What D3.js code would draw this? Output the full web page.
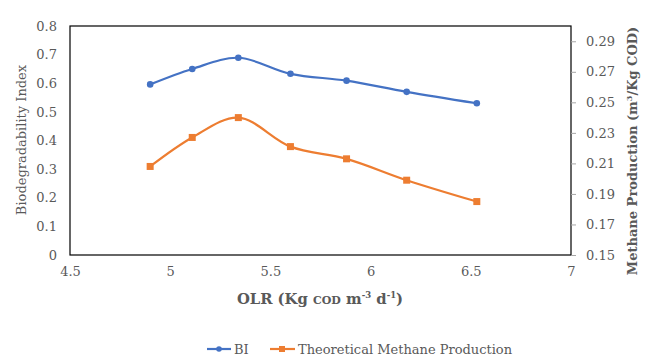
<!DOCTYPE html>
<html><head><meta charset="utf-8">
<script src="https://cdn.jsdelivr.net/npm/d3@7"></script>
<style>body{margin:0;background:#fff}svg{display:block}text{font-family:"DejaVu Serif",serif}</style>
</head><body><svg id="c" width="648" height="364"></svg>
<script>
const olr = [4.90, 5.11, 5.34, 5.60, 5.88, 6.18, 6.53];
const bi = [0.596, 0.650, 0.689, 0.633, 0.609, 0.570, 0.530];
const methane = [0.208, 0.227, 0.240, 0.221, 0.213, 0.199, 0.185];
const xTicks = [4.5, 5, 5.5, 6, 6.5, 7];
const leftTicks = [0, 0.1, 0.2, 0.3, 0.4, 0.5, 0.6, 0.7, 0.8];
const rightTicks = [0.15, 0.17, 0.19, 0.21, 0.23, 0.25, 0.27, 0.29];
const seriesNames = ["BI", "Theoretical Methane Production"];
const colors = ["#4472C4", "#ED7D31"];

const svg = d3.select("#c");
const L = 70, R = 571, T = 26, B = 255;
const x = d3.scaleLinear().domain([4.5, 7]).range([L, R]);
const yL = d3.scaleLinear().domain([0, 0.8]).range([B, T]);
const yR = d3.scaleLinear().domain([0.15, 0.30]).range([B, T]);
const fs = 13, gray = "#595959";

// plot box
svg.append("rect").attr("x", L).attr("y", T).attr("width", R - L).attr("height", B - T)
  .attr("fill", "none").attr("stroke", "#000").attr("stroke-width", 1.2);

// left axis
const gl = svg.append("g").attr("transform", `translate(${L},0)`)
  .call(d3.axisLeft(yL).tickValues(leftTicks).tickSize(0).tickPadding(13).tickFormat(d3.format("")));
gl.select(".domain").remove();
gl.selectAll("text").attr("font-size", fs).attr("fill", gray).style("font-family", '"DejaVu Serif",serif');

// right axis
const gr = svg.append("g").attr("transform", `translate(${R},0)`)
  .call(d3.axisRight(yR).tickValues(rightTicks).tickSize(5).tickPadding(10).tickFormat(d3.format(".2f")));
gr.select(".domain").remove();
gr.selectAll("line").attr("stroke", "#a6a6a6");
gr.selectAll("text").attr("font-size", fs).attr("fill", gray).style("font-family", '"DejaVu Serif",serif');

// bottom axis
const gb = svg.append("g").attr("transform", `translate(0,${B})`)
  .call(d3.axisBottom(x).tickValues(xTicks).tickSize(0).tickPadding(12).tickFormat(d3.format("")));
gb.select(".domain").remove();
gb.selectAll("text").attr("font-size", fs).attr("fill", gray).style("font-family", '"DejaVu Serif",serif');

// axis titles
svg.append("text").attr("transform", "translate(26,140) rotate(-90)").attr("text-anchor", "middle")
  .attr("font-size", 13).attr("fill", gray).text("Biodegradability Index");

const rt = svg.append("text").attr("transform", "translate(637,151) rotate(-90)").attr("text-anchor", "middle")
  .attr("font-size", 13).attr("font-weight", "bold").attr("fill", gray);
rt.append("tspan").text("Methane Production (m");
rt.append("tspan").attr("font-size", 8).attr("dy", -5).text("3");
rt.append("tspan").attr("dy", 5).text("/Kg COD)");

const xt = svg.append("text").attr("x", 320).attr("y", 304).attr("text-anchor", "middle")
  .attr("font-size", 14.8).attr("font-weight", "bold").attr("fill", gray);
xt.append("tspan").text("OLR (Kg ");
xt.append("tspan").attr("font-size", 11).text("COD");
xt.append("tspan").text(" m");
xt.append("tspan").attr("font-size", 8.5).attr("dy", -6).text("-3");
xt.append("tspan").attr("dy", 6).text(" d");
xt.append("tspan").attr("font-size", 8.5).attr("dy", -6).text("-1");
xt.append("tspan").attr("dy", 6).text(")");

// series
const curve = d3.curveCatmullRom.alpha(0.5);
const biPts = olr.map((v, i) => [x(v), yL(bi[i])]);
const mPts = olr.map((v, i) => [x(v), yR(methane[i])]);
svg.append("path").attr("d", d3.line().curve(curve)(biPts)).attr("fill", "none")
  .attr("stroke", colors[0]).attr("stroke-width", 2.2);
svg.append("path").attr("d", d3.line().curve(curve)(mPts)).attr("fill", "none")
  .attr("stroke", colors[1]).attr("stroke-width", 2.2);
svg.selectAll(".bm").data(biPts).join("circle").attr("cx", d => d[0]).attr("cy", d => d[1])
  .attr("r", 3.3).attr("fill", colors[0]);
svg.selectAll(".mm").data(mPts).join("rect").attr("x", d => d[0] - 3.5).attr("y", d => d[1] - 3.5)
  .attr("width", 7).attr("height", 7).attr("fill", colors[1]);

// legend
const lg = svg.append("g");
lg.append("line").attr("x1", 207).attr("x2", 231).attr("y1", 349).attr("y2", 349)
  .attr("stroke", colors[0]).attr("stroke-width", 2.2);
lg.append("circle").attr("cx", 219).attr("cy", 349).attr("r", 2.8).attr("fill", colors[0]);
lg.append("text").attr("x", 234).attr("y", 354).attr("font-size", fs).attr("fill", gray).text(seriesNames[0]);
lg.append("line").attr("x1", 270).attr("x2", 295).attr("y1", 349).attr("y2", 349)
  .attr("stroke", colors[1]).attr("stroke-width", 2.2);
lg.append("rect").attr("x", 279).attr("y", 346).attr("width", 6).attr("height", 6).attr("fill", colors[1]);
lg.append("text").attr("x", 298).attr("y", 354).attr("font-size", fs).attr("fill", gray).text(seriesNames[1]);
</script></body></html>
